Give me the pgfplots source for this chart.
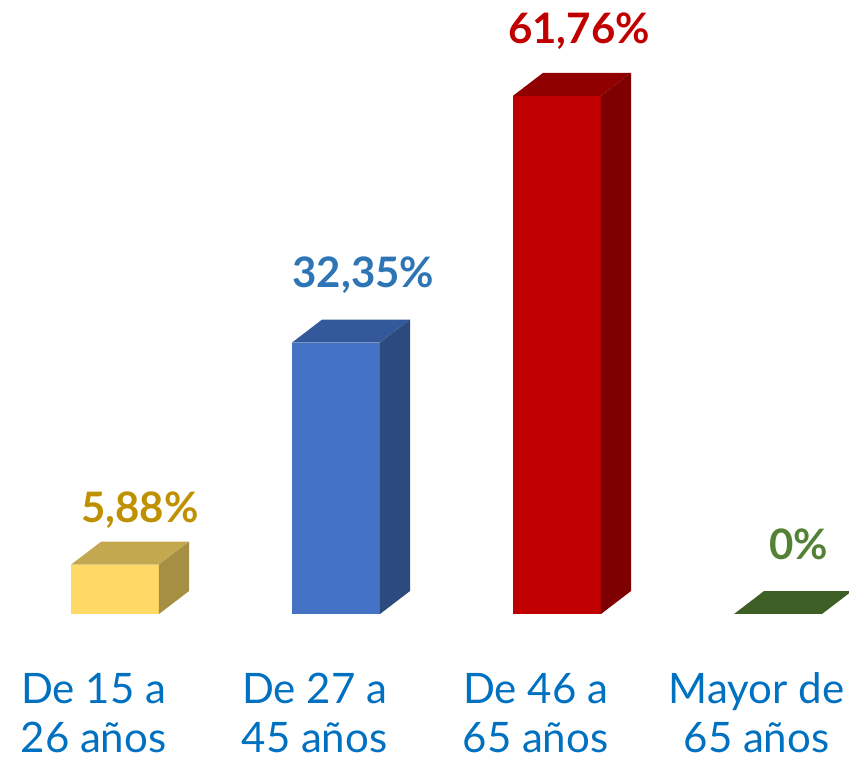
\documentclass[border=0pt]{standalone}
\usepackage{pgfplots}
\pgfplotsset{compat=1.18}
\usepackage{fontspec}
\setmainfont{Lato}
\definecolor{yfront}{HTML}{FFD966}
\definecolor{ytop}{HTML}{C4A850}
\definecolor{yside}{HTML}{A68E42}
\definecolor{bfront}{HTML}{4472C4}
\definecolor{btop}{HTML}{34599A}
\definecolor{bside}{HTML}{2C4A7E}
\definecolor{rfront}{HTML}{C00000}
\definecolor{rtop}{HTML}{900000}
\definecolor{rside}{HTML}{7F0000}
\definecolor{gtop}{HTML}{3D5F26}
\definecolor{ylab}{HTML}{BF9000}
\definecolor{blab}{HTML}{2E75B6}
\definecolor{rlab}{HTML}{C00000}
\definecolor{glab}{HTML}{548235}
\definecolor{cat}{HTML}{0070C0}
\tikzset{vlab/.style={anchor=base, inner sep=0pt, font=\fontsize{42}{48}\selectfont\bfseries},
  clab/.style={anchor=base, inner sep=0pt, text=cat, font=\fontsize{42}{48}\selectfont}}
\begin{document}
\begin{tikzpicture}
\begin{axis}[
  scale only axis, width=849pt, height=757pt,
  xmin=-0.5204, xmax=3.3213, ymin=-17.044, ymax=73.18,
  axis lines=none, ticks=none,
]
% Bar 1: 5.88
\addplot[fill=yfront, draw=none] coordinates {(-0.199,0) (0.199,0) (0.199,5.88) (-0.199,5.88)} -- cycle;
\addplot[fill=ytop, draw=none] coordinates {(-0.199,5.88) (0.199,5.88) (0.335,8.62) (-0.063,8.62)} -- cycle;
\addplot[fill=yside, draw=none] coordinates {(0.199,0) (0.335,2.74) (0.335,8.62) (0.199,5.88)} -- cycle;
% Bar 2: 32.35
\addplot[fill=bfront, draw=none] coordinates {(0.801,0) (1.199,0) (1.199,32.35) (0.801,32.35)} -- cycle;
\addplot[fill=btop, draw=none] coordinates {(0.801,32.35) (1.199,32.35) (1.335,35.09) (0.937,35.09)} -- cycle;
\addplot[fill=bside, draw=none] coordinates {(1.199,0) (1.335,2.74) (1.335,35.09) (1.199,32.35)} -- cycle;
% Bar 3: 61.76
\addplot[fill=rfront, draw=none] coordinates {(1.801,0) (2.199,0) (2.199,61.76) (1.801,61.76)} -- cycle;
\addplot[fill=rtop, draw=none] coordinates {(1.801,61.76) (2.199,61.76) (2.335,64.50) (1.937,64.50)} -- cycle;
\addplot[fill=rside, draw=none] coordinates {(2.199,0) (2.335,2.74) (2.335,64.50) (2.199,61.76)} -- cycle;
% Bar 4: 0
\addplot[fill=gtop, draw=none] coordinates {(2.801,0) (3.199,0) (3.335,2.74) (2.937,2.74)} -- cycle;
% value labels
\node[vlab, text=ylab] at (axis cs:0.113,10.85) {5,88\%};
\node[vlab, text=blab] at (axis cs:1.124,38.86) {32,35\%};
\node[vlab, text=rlab] at (axis cs:2.100,67.94) {61,76\%};
\node[vlab, text=glab] at (axis cs:3.095,6.44) {0\%};
% category labels
\node[clab] at (axis cs:-0.097,-10.61) {De 15 a};
\node[clab] at (axis cs:-0.097,-16.45) {26 años};
\node[clab] at (axis cs:0.903,-10.61) {De 27 a};
\node[clab] at (axis cs:0.903,-16.45) {45 años};
\node[clab] at (axis cs:1.903,-10.61) {De 46 a};
\node[clab] at (axis cs:1.903,-16.45) {65 años};
\node[clab] at (axis cs:2.903,-10.61) {Mayor de};
\node[clab] at (axis cs:2.903,-16.45) {65 años};
\end{axis}
\pgfresetboundingbox
\path[use as bounding box] (current axis.south west) rectangle (current axis.north east);
\end{tikzpicture}
\end{document}
